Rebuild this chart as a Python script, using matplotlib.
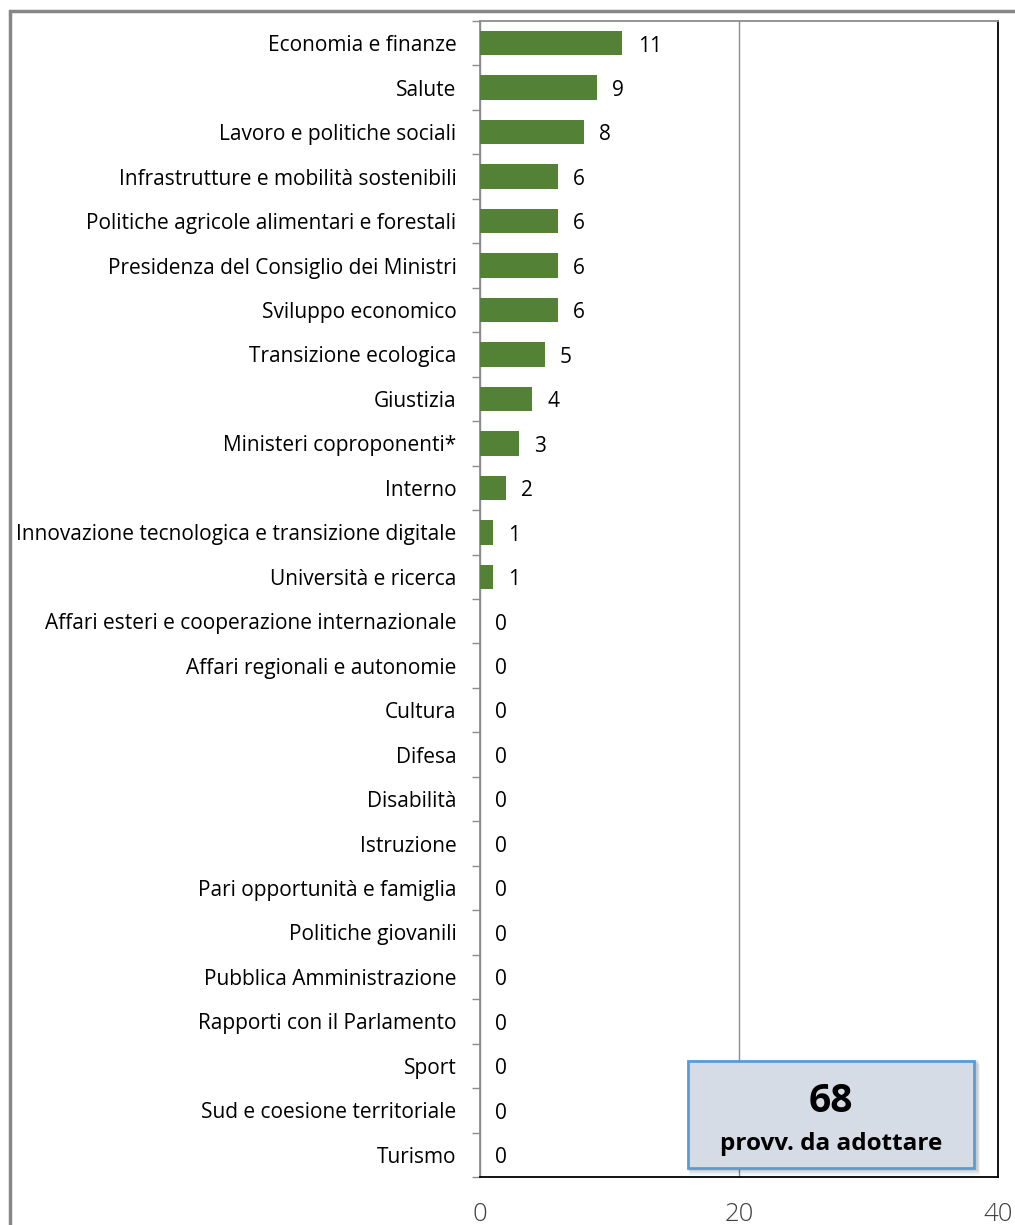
import matplotlib
matplotlib.use("Agg")
import matplotlib.pyplot as plt
from matplotlib.patches import Rectangle

categories = [
    "Economia e finanze", "Salute", "Lavoro e politiche sociali",
    "Infrastrutture e mobilità sostenibili",
    "Politiche agricole alimentari e forestali",
    "Presidenza del Consiglio dei Ministri", "Sviluppo economico",
    "Transizione ecologica", "Giustizia", "Ministeri coproponenti*",
    "Interno", "Innovazione tecnologica e transizione digitale",
    "Università e ricerca", "Affari esteri e cooperazione internazionale",
    "Affari regionali e autonomie", "Cultura", "Difesa", "Disabilità",
    "Istruzione", "Pari opportunità e famiglia", "Politiche giovanili",
    "Pubblica Amministrazione", "Rapporti con il Parlamento", "Sport",
    "Sud e coesione territoriale", "Turismo",
]
values = [11, 9, 8, 6, 6, 6, 6, 5, 4, 3, 2, 1, 1,
          0, 0, 0, 0, 0, 0, 0, 0, 0, 0, 0, 0, 0]
x_ticks = [0, 20, 40]
total_label = "68"
total_caption = "provv. da adottare"

plt.rcParams['font.family'] = ['Open Sans', 'DejaVu Sans']

W, H = 1015, 1225
fig = plt.figure(figsize=(W / 100, H / 100), dpi=100)

# outer frame
fig.patches.append(Rectangle((9.5 / W, -0.05), 1.2, 1 - 10.5 / H + 0.05,
                             transform=fig.transFigure, fill=False,
                             edgecolor="#878787", linewidth=2.5))

ax_l, ax_r, ax_t, ax_b = 480, 998, 21, 1177
ax = fig.add_axes([ax_l / W, 1 - ax_b / H, (ax_r - ax_l) / W, (ax_b - ax_t) / H])

n = len(categories)
ypos = list(range(n))
ax.barh(ypos, values, height=0.55, color="#538135", zorder=3)
ax.set_ylim(n - 0.5, -0.5)
ax.set_xlim(0, 40)

for y, v in zip(ypos, values):
    ax.annotate(str(v), (v, y), xytext=(11, -2), textcoords="offset points",
                ha="left", va="center", fontsize=15, color="black", zorder=4)

ax.set_xticks(x_ticks)
ax.set_xticklabels([str(t) for t in x_ticks], fontsize=18.5, color="#404040",
                   fontweight="light")
ax.tick_params(axis="x", length=0, pad=18)
ax.xaxis.grid(True, color="#8c8c8c", linewidth=1, zorder=0)

ax.set_yticks(ypos)
ax.set_yticklabels(categories, fontsize=15, color="black")
ax.set_yticks([i - 0.5 for i in range(n + 1)], minor=True)
ax.tick_params(axis="y", which="major", length=0, pad=17)
ax.tick_params(axis="y", which="minor", length=6, color="#8c8c8c", width=1)

ax.spines["left"].set_color("#8c8c8c")
ax.spines["top"].set_color("#8c8c8c")
ax.spines["right"].set_color("black")
ax.spines["bottom"].set_color("black")
for s in ax.spines.values():
    s.set_linewidth(1.3)

# summary box with soft shadow
bx0, by0, bx1, by1 = 688, 1061, 974, 1168
for k, a in [(7, 0.05), (5, 0.07), (3, 0.09)]:
    fig.patches.append(Rectangle(((bx0 - 2 + k / 2) / W, 1 - (by1 + k) / H),
                                 (bx1 - bx0 + 4) / W, (by1 - by0 + 4) / H,
                                 transform=fig.transFigure, facecolor="black",
                                 alpha=a, edgecolor="none", zorder=5))
fig.patches.append(Rectangle((bx0 / W, 1 - by1 / H), (bx1 - bx0) / W, (by1 - by0) / H,
                             transform=fig.transFigure, facecolor="#d6dce5",
                             edgecolor="#5b9bd5", linewidth=2, zorder=6))
cx = (bx0 + bx1) / 2 / W
fig.text(cx, 1 - 1102 / H, total_label, ha="center", va="center",
         fontsize=28, fontweight="bold", color="black", zorder=7)
fig.text(cx, 1 - 1144 / H, total_caption, ha="center", va="center",
         fontsize=17.5, fontweight="bold", color="black", zorder=7)

fig.savefig("out.png", dpi=100)
